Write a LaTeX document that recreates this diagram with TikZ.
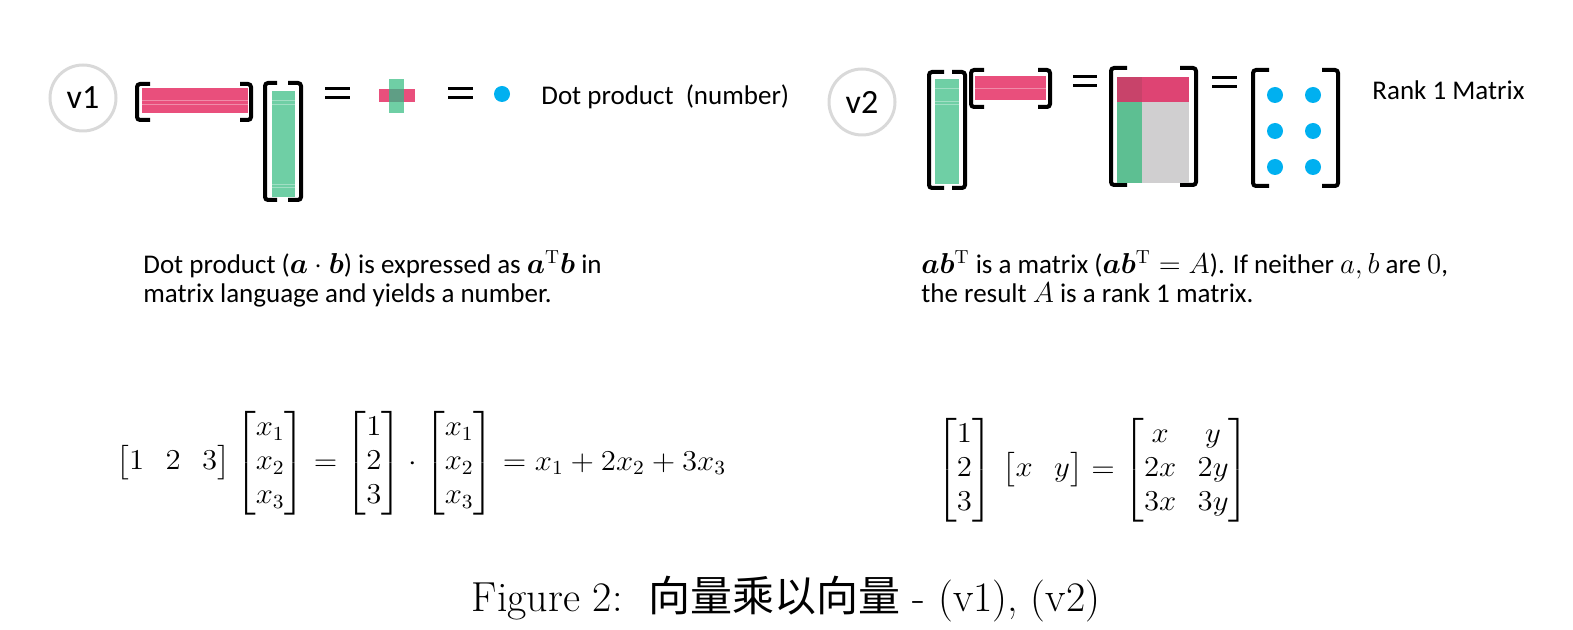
\documentclass[tikz,border=0pt]{standalone}
\usepackage{amsmath,bm}
\usepackage{fontspec}
\newfontfamily\calib{Carlito}
\newfontfamily\cjk{Noto Sans CJK SC}
\definecolor{barred}{HTML}{E94F7C}
\definecolor{bargreen}{HTML}{6FCFA5}
\definecolor{dotblue}{HTML}{00B0F0}
\definecolor{ringgrey}{HTML}{D9D9D9}
\definecolor{cellgrey}{HTML}{D0CFD0}
\definecolor{cellred}{HTML}{DE4473}
\definecolor{cellgreen}{HTML}{5DBF92}
\definecolor{cellmix}{HTML}{C8436A}
\definecolor{crossmix}{HTML}{5F9E85}
\usetikzlibrary{positioning}

\begin{document}
\begin{tikzpicture}[x=0.5pt,y=-0.5pt,
  every node/.style={inner sep=0pt},
  brk/.style={line width=2pt,rounded corners=1.5pt},
  eqbar/.style={line width=1.5pt},
  ring/.style={circle,draw=ringgrey,line width=1.5pt,minimum size=33pt,
    font=\calib\fontsize{17}{20}\selectfont},
  label/.style={anchor=base west,font=\calib\fontsize{13.5}{16}\selectfont},
  mathex/.style={anchor=west,font=\fontsize{14}{17}\selectfont},
  streak/.style={white,opacity=0.35,line width=0.4pt}]
  \useasboundingbox (0,0) rectangle (1573,630);

  % v1: row times column
  \node[ring] (vone) at (83,98) {v1};
  \draw[brk] (150,84) -- (137,84) -- (137,120) -- (150,120);
  \draw[brk] (240,84) -- (251,84) -- (251,120) -- (240,120);
  \fill[barred] (142,88) rectangle (248,113);
  \draw[streak] (142,100) -- (248,100) (142,104) -- (248,104);
  \draw[brk] (277,83) -- (265,83) -- (265,200) -- (277,200);
  \draw[brk] (288,83) -- (301,83) -- (301,200) -- (288,200);
  \fill[bargreen] (272,91) rectangle (295,197);
  \draw[streak] (272,100) -- (295,100) (272,104) -- (295,104)
    (272,184) -- (295,184) (272,187) -- (295,187);
  \draw[eqbar] (325,89) -- (350,89) (325,98) -- (350,98);
  \fill[barred] (379,89) rectangle (415,102);
  \fill[bargreen] (389,79) rectangle (404,113);
  \fill[crossmix] (389,89) rectangle (404,102);
  \draw[eqbar] (448,89) -- (473,89) (448,98) -- (473,98);
  \fill[dotblue] (502,94) circle (8);
  \node[label] (dotnum) at (541,105) {Dot product~~(number)};

  % v2: column times row
  \node[ring] (vtwo) at (862,102) {v2};
  \draw[brk] (944,72) -- (929,72) -- (929,188) -- (944,188);
  \draw[brk] (952,72) -- (965,72) -- (965,188) -- (952,188);
  \fill[bargreen] (935,79) rectangle (959,184);
  \draw[streak] (935,88) -- (959,88) (935,101) -- (959,101) (935,104) -- (959,104);
  \draw[brk] (984,70) -- (971,70) -- (971,107) -- (984,107);
  \draw[brk] (1038,70) -- (1050,70) -- (1050,107) -- (1038,107);
  \fill[barred] (975,76) rectangle (1046,100);
  \draw[streak] (975,88) -- (1046,88);
  \draw[eqbar] (1073,77) -- (1097,77) (1073,86) -- (1097,86);
  \draw[brk] (1127,68) -- (1111,68) -- (1111,185) -- (1127,185);
  \draw[brk] (1180,68) -- (1196,68) -- (1196,185) -- (1180,185);
  \fill[cellgrey] (1117,77) rectangle (1189,183);
  \fill[cellred] (1117,77) rectangle (1189,102);
  \fill[cellgreen] (1117,102) rectangle (1142,183);
  \fill[cellmix] (1117,77) rectangle (1142,102);
  \draw[eqbar] (1212,78) -- (1237,78) (1212,87) -- (1237,87);
  \draw[brk] (1269,70) -- (1253,70) -- (1253,186) -- (1269,186);
  \draw[brk] (1322,70) -- (1338,70) -- (1338,186) -- (1322,186);
  \foreach \cx in {1275,1313}
    \foreach \cy in {95,131,167}
      \fill[dotblue] (\cx,\cy) circle (8);
  \node[label] (rankone) at (1372,100) {Rank 1 Matrix};

  % notes
  \node[label] (dotnotea) at (143,274)
    {Dot product ($\bm{a}\cdot\bm{b}$) is expressed as $\bm{a}^{\mathrm{T}}\bm{b}$ in};
  \node[label] (dotnoteb) at (143,303) {matrix language and yields a number.};
  \node[label] (ranknotea) at (921,274)
    {$\bm{ab}^{\mathrm{T}}$ is a matrix ($\bm{ab}^{\mathrm{T}}=A$). If neither $a,b$ are $0$,};
  \node[label] (ranknoteb) at (921,303) {the result $A$ is a rank 1 matrix.};

  % worked examples
  \node[mathex] (dotex) at (116,463)
    {\scalebox{1.07}[1]{$\begin{bmatrix}1&2&3\end{bmatrix}\begin{bmatrix}x_1\\x_2\\x_3\end{bmatrix}
      =\begin{bmatrix}1\\2\\3\end{bmatrix}\cdot\begin{bmatrix}x_1\\x_2\\x_3\end{bmatrix}
      =x_1+2x_2+3x_3$}};
  \node[mathex] (rankex) at (936,470)
    {\scalebox{1.07}[1]{$\begin{bmatrix}1\\2\\3\end{bmatrix}\,\begin{bmatrix}x&y\end{bmatrix}
      =\begin{bmatrix}x&y\\2x&2y\\3x&3y\end{bmatrix}$}};

  % caption
  \node[font=\fontsize{21}{25}\selectfont] (caption) at (786,599)
    {Figure 2:\ \ {\cjk 向量乘以向量} - (v1), (v2)};
\end{tikzpicture}
\end{document}
